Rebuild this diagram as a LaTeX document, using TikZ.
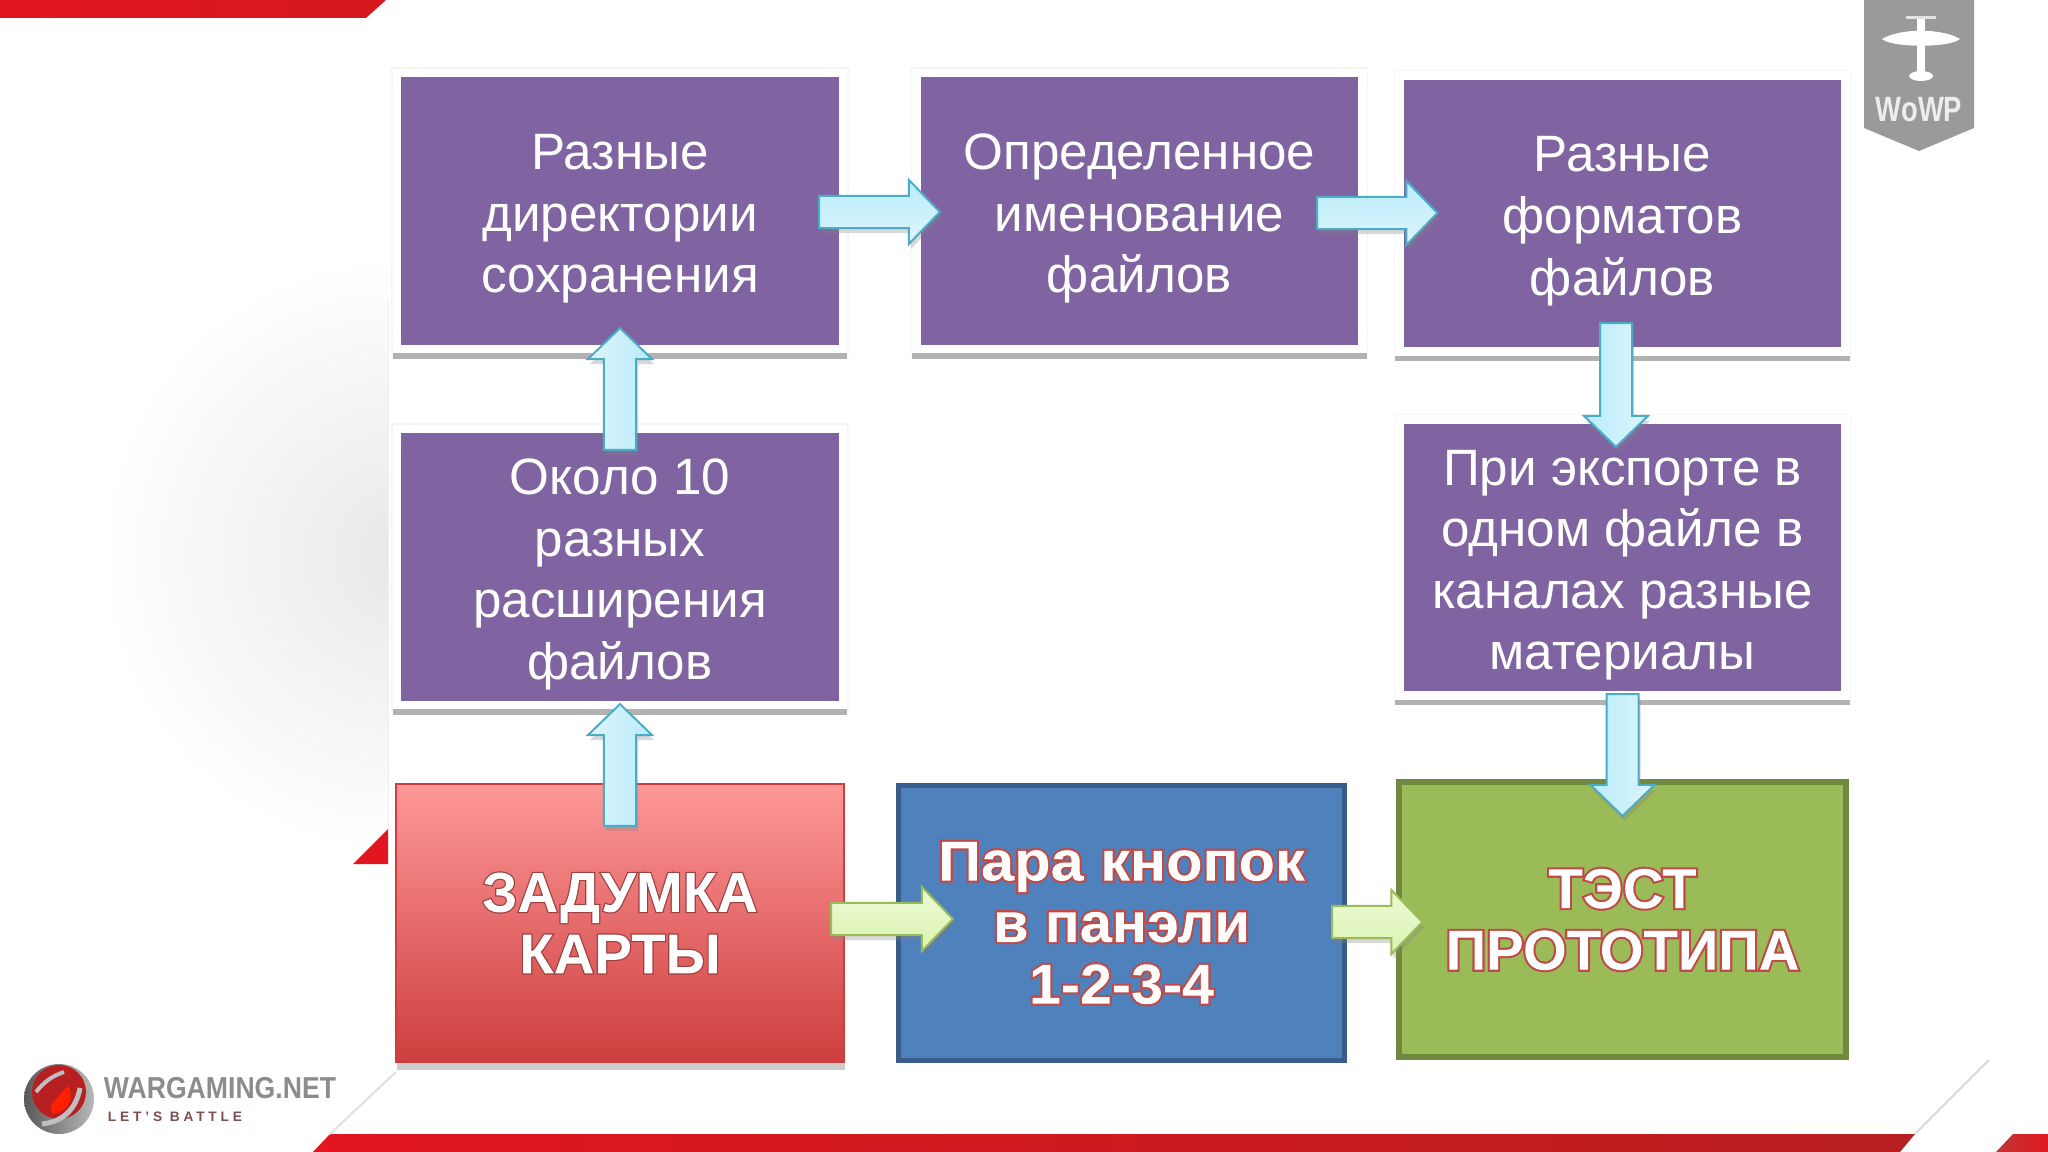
\documentclass[tikz,border=0pt]{standalone}
\usepackage{fontspec}
\usepackage{xcolor}
\usetikzlibrary{calc, shadows}
\setmainfont{Liberation Sans}
\definecolor{slidepurple}{RGB}{128, 100, 162}
\definecolor{slideblue}{RGB}{79, 129, 189}
\definecolor{slidebluedark}{RGB}{56, 93, 138}
\definecolor{slidegreen}{RGB}{155, 187, 89}
\definecolor{slidegreendark}{RGB}{113, 137, 63}
\definecolor{slidered}{RGB}{226, 22, 30}
\definecolor{slidereddark}{RGB}{184, 31, 33}
\definecolor{badgegray}{RGB}{154, 154, 154}
\definecolor{ideatop}{RGB}{254, 152, 152}
\definecolor{ideabottom}{RGB}{205, 62, 62}
\definecolor{arrowdeep}{RGB}{184, 236, 250}
\definecolor{arrowpale}{RGB}{222, 245, 252}
\definecolor{arrowedge}{RGB}{75, 172, 198}
\definecolor{limedeep}{RGB}{218, 244, 178}
\definecolor{limepale}{RGB}{236, 249, 212}
\newcommand{\blockarrow}[3]{%
    \coordinate (arrowstart) at #2;
    \coordinate (arrowtip) at #3;
    \coordinate (arrowbase) at ($(arrowtip)!0.31cm!(arrowstart)$);
    \path[#1] ($(arrowstart)!0.16cm!90:(arrowtip)$) -- ($(arrowbase)!0.16cm!90:(arrowtip)$)
        -- ($(arrowbase)!0.32cm!90:(arrowtip)$) -- (arrowtip) -- ($(arrowbase)!0.32cm!-90:(arrowtip)$)
        -- ($(arrowbase)!0.16cm!-90:(arrowtip)$) -- ($(arrowstart)!0.16cm!-90:(arrowtip)$) -- cycle;
}
% white letters with an outer edge
\newcommand{\outlined}[3]{\special{pdf:code q 5 Tr #2 w #1 RG}#3\special{pdf:code 1 1 1 rg -9999 -9999 19998 19998 re f Q}}
\newcommand{\toppad}{\rule{0pt}{14.4pt}}
\tikzset{
    purplebox/.style={rectangle, outer sep=0pt, fill=slidepurple, draw=white, line width=0.085cm,
        minimum width=4.46cm, minimum height=2.76cm, text=white, align=center,
        preaction={draw=black!4, line width=0.11cm},
        preaction={draw=black!30, fill=black!30, transform canvas={yshift=-0.055cm}},
        font=\fontsize{14.55}{17.5}\selectfont},
    wordbox/.style={rectangle, outer sep=0pt, text=white, align=center,
        minimum width=4.46cm, minimum height=2.75cm,
        font=\fontsize{16}{17.5}\selectfont\bfseries},
    arrowshadow/.style={drop shadow={shadow xshift=0.02cm, shadow yshift=-0.05cm, opacity=.3}},
    bluearrow/.style={draw=arrowedge, line width=0.02cm, arrowshadow},
    greenarrow/.style={draw=slidegreen, line width=0.02cm, arrowshadow}
}
\begin{document}
\begin{tikzpicture}[x=0.01cm, y=-0.01cm]
    \useasboundingbox (0,0) rectangle (2048,1152);
    \fill[white] (0,0) rectangle (2048,1152);

    % left background
    \begin{scope}
        \clip (0,0) rectangle (388,1152);
        \shade[inner color=black!9, outer color=white] (400,555) ellipse (300 and 300);
    \end{scope}
    \draw[black!6, line width=0.01cm] (388,300) -- (388,830);
    \fill[slidered] (388,829) -- (388,864) -- (353,864) -- cycle;

    % red bands
    \shade[left color=slidered, right color=slidered!70!slidereddark] (0,0) -- (386,0) -- (366,18) -- (0,18) -- cycle;
    \shade[left color=slidered, right color=slidereddark] (330,1134) -- (1915,1134) -- (1900,1152) -- (313,1152) -- cycle;
    \shade[left color=slidereddark!90, right color=slidered] (2013,1134) -- (2048,1134) -- (2048,1152) -- (1996,1152) -- cycle;
    \draw[black!12, line width=0.02cm] (396,1072) -- (330,1134);
    \draw[black!15, line width=0.02cm] (1989,1060) -- (1915,1134);

    % WoWP badge
    \fill[badgegray] (1864,0) -- (1974,0) -- (1974,128) -- (1919,151) -- (1864,128) -- cycle;
    \begin{scope}[white]
        \fill (1882,39) .. controls (1900,28) and (1942,28) .. (1960,39) .. controls (1950,48) and (1892,48) .. (1882,39) -- cycle;
        \fill (1917,17) rectangle (1925,76);
        \fill (1921,76) ellipse (12 and 5);
        \fill[white!70!badgegray] (1906,16) rectangle (1936,19);
    \end{scope}
    \node[text=white!93!black, inner sep=0pt, xscale=0.78, font=\fontsize{10}{12}\selectfont\bfseries] (wowp) at (1919,110) {WoWP};

    % logo
    \shade[left color=black!65, right color=black!28] (59,1099) circle (35);
    \fill[slidereddark] (59,1092) circle (27);
    \fill[red!75!orange] (68,1086) .. controls (76,1100) and (66,1112) .. (52,1114) .. controls (48,1102) and (58,1098) .. (68,1086) -- cycle;
    \draw[white!75!black, line width=0.05cm] (42,1124) .. controls (62,1122) and (76,1110) .. (80,1088);
    \draw[white!75!black, line width=0.04cm] (36,1092) .. controls (44,1082) and (52,1076) .. (64,1072);
    \node[text=black!45, inner sep=0pt, xscale=0.88, font=\fontsize{8.6}{10}\selectfont\bfseries] (wargaming) at (220,1088) {WARGAMING.NET};
    \node[text=red!30!black!70, inner sep=0pt, font=\fontsize{3.9}{5}\selectfont\bfseries\addfontfeatures{LetterSpace=28}] (battle) at (175,1117) {LET'S BATTLE};

    % purple blocks
    \node[purplebox] (dirs) at (620,211) {\toppad Разные\\директории\\сохранения};
    \node[purplebox] (names) at (1139.5,211) {\toppad Определенное\\именование\\файлов};
    \node[purplebox] (formats) at (1622.5,213.5) {\toppad Разные\\форматов\\файлов};
    \node[purplebox] (ext) at (620,567) {\toppad Около 10\\разных\\расширения\\файлов};
    \node[purplebox] (export) at (1622.5,557.5) {\toppad При экспорте в\\одном файле в\\каналах разные\\материалы};

    % bottom blocks
    \fill[black!20] (397,1062) rectangle (845,1070);
    \node[wordbox, top color=ideatop, bottom color=ideabottom, draw=ideabottom, line width=0.02cm,
        minimum width=4.48cm, minimum height=2.78cm] (idea) at (620,923)
        {\outlined{0.62 0.25 0.25}{0.7}{ЗАДУМКА}\\\outlined{0.62 0.25 0.25}{0.7}{КАРТЫ}};
    \node[wordbox, fill=slideblue, draw=slidebluedark, line width=0.055cm] (buttons) at (1121.5,923)
        {{\addfontfeatures{FakeStretch=1.06}\outlined{0.75 0.29 0.28}{1.2}{Пара кнопок}}\\
         {\addfontfeatures{FakeStretch=1.03}\outlined{0.75 0.29 0.28}{1.2}{в панэли}}\\
         {\addfontfeatures{FakeStretch=1.02}\outlined{0.75 0.29 0.28}{1.2}{1-2-3-4}}};
    \node[wordbox, fill=slidegreen, draw=slidegreendark, line width=0.06cm] (test) at (1622.5,919.5)
        {\outlined{0.75 0.29 0.28}{1.2}{ТЭСТ}\\\outlined{0.75 0.29 0.28}{1.2}{ПРОТОТИПА}};

    % arrows
    \blockarrow{bluearrow, top color=arrowdeep, bottom color=arrowpale}{($(dirs.east)+(-24,1)$)}{($(names.west)+(23.5,1)$)}
    \blockarrow{bluearrow, top color=arrowdeep, bottom color=arrowpale}{($(names.east)+(-45.5,2)$)}{($(formats.west)+(38,-0.5)$)}
    \blockarrow{bluearrow, left color=arrowpale, right color=arrowdeep}{($(ext.north)+(0,21)$)}{($(dirs.south)+(0,-21)$)}
    \blockarrow{bluearrow, left color=arrowpale, right color=arrowdeep}{($(idea.north)+(0,42)$)}{($(ext.south)+(0,-1)$)}
    \blockarrow{bluearrow, left color=arrowdeep, right color=arrowpale}{($(formats.south)+(-6.5,-28.5)$)}{($(export.north)+(-6.5,27.5)$)}
    \blockarrow{bluearrow, left color=arrowdeep, right color=arrowpale}{($(export.south)+(0,-1.5)$)}{($(test.north)+(0,34)$)}
    \blockarrow{greenarrow, top color=limepale, bottom color=limedeep}{($(idea.east)+(-13,-4)$)}{($(buttons.west)+(54.5,-4)$)}
    \blockarrow{greenarrow, top color=limepale, bottom color=limedeep}{($(buttons.east)+(-12.5,-1)$)}{($(test.west)+(23,2.5)$)}
\end{tikzpicture}
\end{document}
